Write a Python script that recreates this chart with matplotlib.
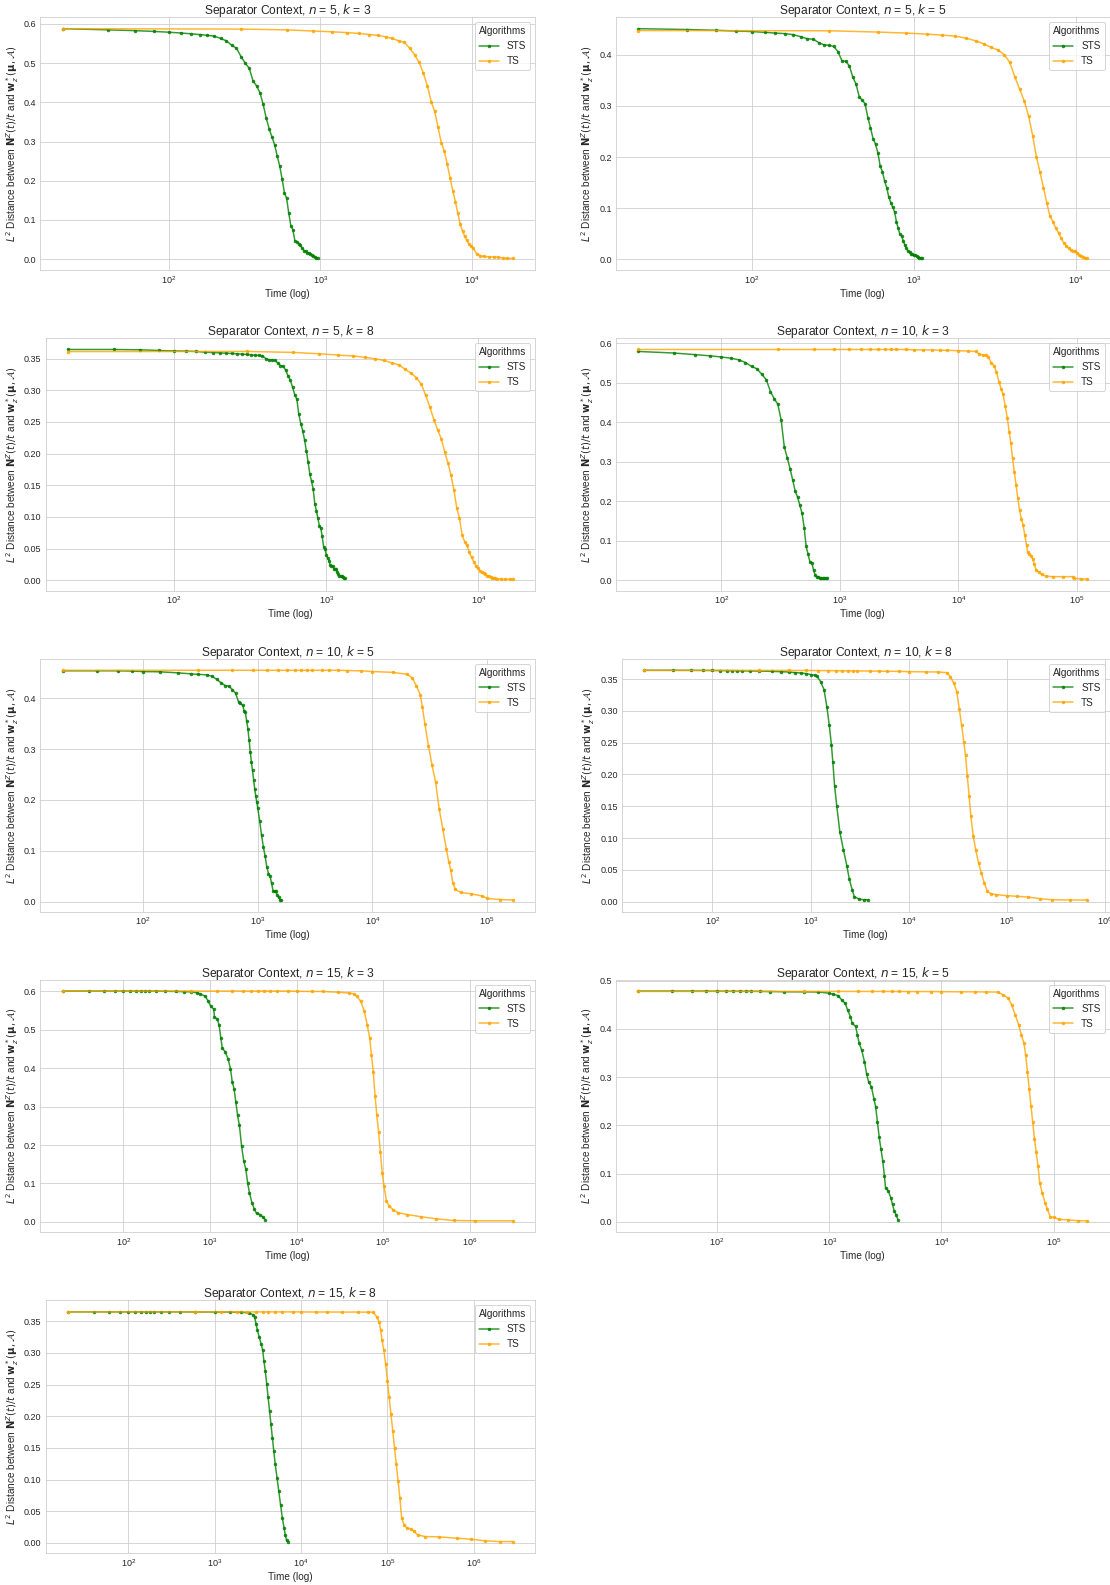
import matplotlib
matplotlib.use("Agg")
import matplotlib.pyplot as plt
import seaborn as sns

sns.set_style("whitegrid")
plt.rcParams["font.family"] = ["Liberation Sans", "DejaVu Sans"]

# ---------------- data ----------------
N5K3_STS_T = [20, 40, 60, 80, 100, 120, 140, 160, 180, 200, 220, 240, 260, 280, 300, 320, 340, 360, 380, 400,
              420, 440, 460, 480, 500, 520, 540, 560, 580, 600, 620, 640, 660, 680, 700, 720, 740, 760, 780, 800,
              820, 840, 860, 880, 900, 920, 940, 960]
N5K3_STS_Y = [0.588, 0.585, 0.583, 0.581, 0.579, 0.577, 0.575, 0.573, 0.571, 0.569, 0.563, 0.557, 0.546, 0.538,
              0.517, 0.500, 0.487, 0.455, 0.442, 0.425, 0.395, 0.360, 0.333, 0.312, 0.292, 0.263, 0.238, 0.205,
              0.170, 0.155, 0.117, 0.085, 0.075, 0.047, 0.044, 0.040, 0.035, 0.028, 0.022, 0.020, 0.017, 0.015,
              0.013, 0.010, 0.008, 0.006, 0.004, 0.003]
N5K3_TS_T = [20, 300, 600, 900, 1200, 1500, 1800, 2100, 2400, 2700, 3000, 3300, 3600, 3900, 4200, 4500, 4800,
             5100, 5400, 5700, 6000, 6300, 6600, 6900, 7200, 7500, 7800, 8100, 8400, 8700, 9000, 9300, 9600, 9900,
             10200, 10800, 11400, 12000, 13000, 14000, 15000, 16000, 17000, 18600]
N5K3_TS_Y = [0.588, 0.587, 0.585, 0.582, 0.580, 0.578, 0.576, 0.573, 0.571, 0.567, 0.563, 0.557, 0.553, 0.538,
             0.521, 0.502, 0.474, 0.442, 0.402, 0.377, 0.336, 0.297, 0.276, 0.242, 0.207, 0.175, 0.147, 0.117,
             0.089, 0.072, 0.058, 0.048, 0.038, 0.033, 0.029, 0.014, 0.009, 0.007, 0.006, 0.006, 0.005, 0.003,
             0.002, 0.002]

N5K5_STS_T = [20, 40, 60, 80, 100, 120, 140, 160, 180, 200, 220, 240, 260, 280, 300, 320, 340, 360, 380, 400,
              420, 440, 460, 480, 500, 520, 540, 560, 580, 600, 620, 640, 660, 680, 700, 720, 740, 760, 780, 800,
              820, 840, 860, 880, 900, 920, 940, 960, 980, 1000, 1020, 1040, 1060, 1080, 1100, 1120]
N5K5_STS_Y = [0.4506, 0.449, 0.4475, 0.446, 0.445, 0.4435, 0.442, 0.441, 0.439, 0.435, 0.431, 0.430, 0.423,
              0.419, 0.418, 0.416, 0.406, 0.388, 0.387, 0.378, 0.356, 0.342, 0.318, 0.311, 0.304, 0.277, 0.257,
              0.236, 0.225, 0.208, 0.182, 0.171, 0.153, 0.140, 0.122, 0.111, 0.102, 0.093, 0.074, 0.061, 0.049,
              0.046, 0.036, 0.028, 0.022, 0.016, 0.015, 0.011, 0.010, 0.009, 0.008, 0.006, 0.004, 0.003, 0.003,
              0.003]
N5K5_TS_T = [20, 300, 600, 900, 1200, 1500, 1800, 2100, 2400, 2700, 3000, 3300, 3600, 3900, 4200, 4500, 4800,
             5100, 5400, 5700, 6000, 6300, 6600, 6900, 7200, 7500, 7800, 8100, 8400, 8700, 9000, 9300, 9600, 9900,
             10200, 10500, 10800, 11100, 11400, 11700]
N5K5_TS_Y = [0.447, 0.4465, 0.444, 0.442, 0.440, 0.438, 0.436, 0.432, 0.427, 0.421, 0.414, 0.409, 0.400, 0.385,
             0.356, 0.332, 0.309, 0.280, 0.242, 0.200, 0.170, 0.140, 0.111, 0.085, 0.074, 0.061, 0.052, 0.041,
             0.033, 0.027, 0.022, 0.018, 0.017, 0.016, 0.013, 0.009, 0.006, 0.004, 0.003, 0.002]

N5K8_STS_T = [20, 40, 60, 80, 100, 120, 140, 160, 180, 200, 220, 240, 260, 280, 300, 320, 340, 360, 380, 400,
              420, 440, 460, 480, 500, 520, 540, 560, 580, 600, 620, 640, 660, 680, 700, 720, 740, 760, 780, 800,
              820, 840, 860, 880, 900, 920, 940, 960, 980, 1000, 1020, 1040, 1060, 1080, 1100, 1120, 1140, 1160,
              1180, 1200, 1220, 1240, 1260, 1280, 1300, 1320]
N5K8_STS_Y = [0.3643, 0.3643, 0.3638, 0.3627, 0.362, 0.3617, 0.3612, 0.360, 0.3595, 0.359, 0.3585, 0.358,
              0.3575, 0.357, 0.3565, 0.356, 0.355, 0.355, 0.3545, 0.350, 0.348, 0.348, 0.347, 0.343, 0.339, 0.338,
              0.332, 0.323, 0.316, 0.305, 0.293, 0.286, 0.262, 0.247, 0.236, 0.221, 0.204, 0.186, 0.167, 0.156,
              0.144, 0.121, 0.110, 0.098, 0.086, 0.082, 0.069, 0.053, 0.050, 0.040, 0.035, 0.031, 0.024, 0.023,
              0.023, 0.018, 0.018, 0.018, 0.013, 0.009, 0.006, 0.006, 0.006, 0.005, 0.003, 0.003]
N5K8_TS_T = [20, 300, 600, 900, 1200, 1500, 1800, 2100, 2400, 2700, 3000, 3300, 3600, 3900, 4200, 4500, 4800,
             5100, 5400, 5700, 6000, 6300, 6600, 6900, 7200, 7500, 7800, 8100, 8400, 8700, 9000, 9300, 9600, 9900,
             10200, 10500, 10800, 11100, 11400, 11700, 12000, 12300, 12600, 12900, 13200, 14000, 15000, 16000,
             16800]
N5K8_TS_Y = [0.361, 0.3612, 0.3597, 0.3575, 0.3555, 0.354, 0.352, 0.3495, 0.347, 0.343, 0.340, 0.333, 0.327,
             0.320, 0.310, 0.292, 0.273, 0.253, 0.237, 0.223, 0.203, 0.185, 0.166, 0.142, 0.114, 0.098, 0.072,
             0.061, 0.055, 0.044, 0.036, 0.029, 0.023, 0.019, 0.015, 0.013, 0.011, 0.009, 0.007, 0.006, 0.005,
             0.004, 0.003, 0.003, 0.002, 0.002, 0.0015, 0.0015, 0.0015]

N10K3_STS_T = [20, 40, 60, 80, 100, 120, 140, 160, 180, 200, 220, 240, 260, 280, 300, 320, 340, 360, 380, 400,
               420, 440, 460, 480, 500, 520, 540, 560, 580, 600, 620, 640, 660, 680, 700, 720, 740, 760, 780]
N10K3_STS_Y = [0.579, 0.575, 0.571, 0.568, 0.565, 0.562, 0.558, 0.551, 0.541, 0.535, 0.521, 0.507, 0.477,
               0.459, 0.445, 0.405, 0.337, 0.310, 0.282, 0.254, 0.225, 0.210, 0.189, 0.169, 0.133, 0.085, 0.065,
               0.045, 0.044, 0.025, 0.012, 0.008, 0.008, 0.006, 0.004, 0.004, 0.004, 0.004, 0.004]
N10K3_TS_T = [20, 300, 600, 900, 1200, 1500, 1800, 2100, 2400, 2700, 3000, 3600, 4200, 5000, 6000, 7000, 8000,
              10000, 12000, 14050, 15030, 16090, 16980, 17940, 18940, 19990, 20970, 21990, 22900, 23860, 24840,
              25900, 26800, 27700, 28650, 29650, 30660, 31730, 32830, 33970, 35140, 36360, 37610, 38380, 39440,
              41080, 42220, 43670, 45180, 47680, 50330, 54580, 62540, 76700, 92800, 95300, 107700, 121800]
N10K3_TS_Y = [0.584, 0.584, 0.584, 0.584, 0.584, 0.584, 0.584, 0.584, 0.584, 0.584, 0.584, 0.584, 0.583,
              0.583, 0.583, 0.582, 0.582, 0.581, 0.580, 0.579, 0.572, 0.570, 0.570, 0.565, 0.550, 0.543, 0.527,
              0.502, 0.485, 0.470, 0.440, 0.410, 0.376, 0.347, 0.308, 0.274, 0.241, 0.207, 0.177, 0.155, 0.139,
              0.113, 0.088, 0.071, 0.066, 0.062, 0.054, 0.041, 0.026, 0.020, 0.014, 0.010, 0.0085, 0.0085,
              0.0085, 0.004, 0.003, 0.002]

N10K5_STS_T = [20, 40, 60, 80, 100, 140, 200, 260, 300, 360, 400, 440, 480, 520, 560, 600, 640, 680, 700, 740,
               760, 780, 800, 820, 840, 860, 880, 900, 920, 940, 960, 980, 1000, 1040, 1080, 1120, 1160, 1200,
               1240, 1280, 1320, 1360, 1400, 1440, 1480, 1520, 1560, 1600]
N10K5_STS_Y = [0.454, 0.454, 0.454, 0.4535, 0.4525, 0.452, 0.450, 0.448, 0.447, 0.446, 0.443, 0.437, 0.430,
               0.425, 0.424, 0.417, 0.410, 0.393, 0.390, 0.386, 0.375, 0.372, 0.355, 0.340, 0.318, 0.295, 0.275,
               0.258, 0.240, 0.222, 0.208, 0.196, 0.184, 0.158, 0.130, 0.107, 0.089, 0.068, 0.055, 0.050, 0.036,
               0.021, 0.020, 0.020, 0.012, 0.008, 0.004, 0.003]
N10K5_TS_T = [20, 300, 600, 900, 1200, 1500, 1800, 2100, 2400, 2700, 3000, 3600, 4200, 5000, 6000, 8000, 10000,
              15000, 20140, 22130, 24110, 26100, 27240, 28630, 30770, 33070, 35530, 38190, 41040, 44100, 46370,
              48060, 50150, 52750, 58740, 72880, 90340, 100600, 129400, 166400]
N10K5_TS_Y = [0.455, 0.455, 0.455, 0.455, 0.455, 0.455, 0.455, 0.455, 0.455, 0.455, 0.455, 0.455, 0.455,
              0.455, 0.4545, 0.454, 0.4525, 0.451, 0.447, 0.440, 0.425, 0.407, 0.383, 0.350, 0.307, 0.268, 0.235,
              0.182, 0.143, 0.103, 0.077, 0.063, 0.037, 0.024, 0.018, 0.015, 0.011, 0.006, 0.004, 0.003]

N10K8_STS_T = [20, 40, 60, 80, 100, 120, 140, 160, 180, 200, 240, 300, 400, 500, 600, 700, 800, 900, 1000,
               1100, 1164, 1264, 1373, 1467, 1553, 1633, 1687, 1758, 1847, 1990, 2160, 2345, 2485, 2653, 2788,
               3130, 3500, 3878]
N10K8_STS_Y = [0.3637, 0.3637, 0.3636, 0.3635, 0.3634, 0.3633, 0.3632, 0.3631, 0.363, 0.3628, 0.3626, 0.3625,
               0.362, 0.3615, 0.361, 0.360, 0.3595, 0.3585, 0.357, 0.356, 0.354, 0.346, 0.333, 0.306, 0.277,
               0.246, 0.219, 0.182, 0.151, 0.109, 0.082, 0.056, 0.035, 0.019, 0.008, 0.004, 0.003, 0.003]
N10K8_TS_T = [20, 300, 600, 900, 1200, 1500, 1800, 2100, 2400, 2700, 3000, 4000, 5000, 6000, 8000, 10000, 15000,
              20000, 24550, 26660, 28940, 30900, 32730, 34670, 36460, 37970, 39590, 41260, 42990, 45510, 48200,
              51490, 55040, 58830, 63310, 68720, 77800, 99600, 127500, 163300, 217800, 290600, 438600, 662000]
N10K8_TS_Y = [0.3635, 0.3635, 0.3635, 0.3634, 0.3633, 0.3632, 0.3631, 0.363, 0.363, 0.3628, 0.3627, 0.3625,
              0.3623, 0.3621, 0.362, 0.3615, 0.3612, 0.361, 0.360, 0.3537, 0.343, 0.330, 0.3036, 0.277, 0.251,
              0.230, 0.198, 0.1666, 0.135, 0.103, 0.082, 0.061, 0.045, 0.030, 0.016, 0.0127, 0.011, 0.0095,
              0.0084, 0.0074, 0.0047, 0.003, 0.0026, 0.0026]

N15K3_STS_T = [20, 40, 60, 80, 100, 120, 140, 160, 180, 200, 240, 300, 400, 500, 600, 700, 770, 887, 957, 1024,
               1105, 1126, 1215, 1274, 1336, 1388, 1497, 1615, 1726, 1810, 1898, 1990, 2087, 2188, 2317, 2453,
               2595, 2722, 2856, 3052, 3262, 3451, 3796, 4055, 4336]
N15K3_STS_Y = [0.601, 0.601, 0.601, 0.601, 0.601, 0.601, 0.601, 0.601, 0.601, 0.601, 0.601, 0.6005, 0.600,
               0.5995, 0.599, 0.597, 0.594, 0.587, 0.574, 0.561, 0.554, 0.534, 0.528, 0.513, 0.478, 0.452, 0.443,
               0.425, 0.399, 0.364, 0.347, 0.312, 0.277, 0.251, 0.198, 0.159, 0.137, 0.102, 0.076, 0.0498,
               0.0323, 0.022, 0.019, 0.013, 0.006]
N15K3_TS_T = [20, 600, 1200, 1800, 2400, 3000, 3600, 4200, 5000, 6000, 8000, 10000, 15000, 20000, 30000, 40000,
              45680, 50200, 55220, 60760, 65550, 70050, 73440, 77000, 80720, 84730, 88780, 93100, 97600, 102400,
              109400, 118000, 129800, 149600, 189700, 277300, 405500, 651600, 1152000, 3126000]
N15K3_TS_Y = [0.601, 0.601, 0.601, 0.601, 0.601, 0.601, 0.601, 0.601, 0.601, 0.601, 0.601, 0.6005, 0.600,
              0.600, 0.598, 0.596, 0.594, 0.587, 0.574, 0.548, 0.513, 0.478, 0.434, 0.390, 0.329, 0.277, 0.233,
              0.181, 0.128, 0.093, 0.054, 0.041, 0.032, 0.0236, 0.019, 0.013, 0.008, 0.0035, 0.0026, 0.0026]

N15K5_STS_T = [20, 40, 60, 80, 100, 120, 140, 160, 180, 200, 240, 300, 400, 600, 800, 1000, 1080, 1203, 1293,
               1389, 1460, 1547, 1603, 1722, 1786, 1852, 1947, 2063, 2153, 2248, 2381, 2504, 2595, 2692, 2790,
               2892, 2998, 3106, 3176, 3363, 3537, 3665, 3799, 3939, 4111]
N15K5_STS_Y = [0.4784, 0.4784, 0.4784, 0.4783, 0.4782, 0.4782, 0.4781, 0.478, 0.478, 0.478, 0.4778, 0.4775,
               0.477, 0.4768, 0.4765, 0.474, 0.472, 0.469, 0.460, 0.453, 0.439, 0.4256, 0.412, 0.405, 0.387,
               0.370, 0.356, 0.332, 0.307, 0.290, 0.2796, 0.255, 0.238, 0.2065, 0.175, 0.151, 0.1266, 0.095,
               0.071, 0.064, 0.050, 0.036, 0.022, 0.015, 0.0035]
N15K5_TS_T = [20, 600, 1200, 1800, 2400, 3000, 3600, 4200, 5000, 6000, 8000, 10000, 15000, 20000, 25000, 31690,
              35290, 39300, 42240, 45390, 48780, 51650, 54320, 56290, 58330, 60470, 62660, 65000, 67400, 69850,
              72400, 75080, 78920, 83600, 87930, 93130, 100100, 111500, 133500, 165500, 198200]
N15K5_TS_Y = [0.4777, 0.4777, 0.4777, 0.4777, 0.4777, 0.4777, 0.4776, 0.4776, 0.4775, 0.4775, 0.4774, 0.4772,
              0.477, 0.4768, 0.4766, 0.4764, 0.471, 0.464, 0.450, 0.429, 0.408, 0.387, 0.370, 0.3456, 0.311,
              0.276, 0.241, 0.2066, 0.172, 0.144, 0.116, 0.081, 0.0605, 0.0396, 0.0257, 0.0104, 0.009, 0.0049,
              0.0042, 0.002, 0.002]

N15K8_STS_T = [20, 40, 60, 80, 100, 120, 140, 160, 180, 200, 240, 300, 400, 600, 1000, 1500, 2000, 2500, 2794,
               2900, 3012, 3130, 3280, 3441, 3606, 3711, 3854, 4004, 4159, 4319, 4486, 4658, 4838, 5024, 5272,
               5527, 5796, 6077, 6374, 6555, 6809, 7007]
N15K8_STS_Y = [0.3648, 0.3648, 0.3648, 0.3648, 0.3648, 0.3648, 0.3648, 0.3648, 0.3648, 0.3648, 0.3648,
               0.3648, 0.3648, 0.3647, 0.3646, 0.3645, 0.3642, 0.3632, 0.360, 0.357, 0.346, 0.3357, 0.325,
               0.3145, 0.304, 0.288, 0.272, 0.251, 0.2298, 0.2086, 0.187, 0.166, 0.145, 0.124, 0.103, 0.0815,
               0.060, 0.039, 0.023, 0.0127, 0.004, 0.002]
N15K8_TS_T = [20, 600, 1200, 1800, 2400, 3000, 3600, 4200, 5000, 6000, 8000, 10000, 15000, 20000, 30000, 45000,
              60000, 68240, 75050, 80230, 83330, 86520, 90760, 95140, 99770, 104600, 109700, 115000, 120600,
              126500, 132600, 139000, 145800, 155800, 168100, 184800, 203200, 223400, 270100, 394500, 634000,
              926400, 1355000, 1980000, 2812000]
N15K8_TS_Y = [0.3648, 0.3648, 0.3648, 0.3648, 0.3648, 0.3648, 0.3648, 0.3648, 0.3648, 0.3648, 0.3648, 0.3647,
              0.3646, 0.3646, 0.3645, 0.3645, 0.3644, 0.3643, 0.357, 0.349, 0.3357, 0.320, 0.304, 0.2827, 0.256,
              0.2298, 0.203, 0.177, 0.150, 0.124, 0.0974, 0.071, 0.039, 0.0286, 0.0233, 0.0222, 0.018, 0.0127,
              0.010, 0.0095, 0.0074, 0.0058, 0.0032, 0.0021, 0.0021]

N_VALUES = [5, 5, 5, 10, 10, 10, 15, 15, 15]
K_VALUES = [3, 5, 8, 3, 5, 8, 3, 5, 8]
ALGORITHMS = ["STS", "TS"]
PANELS = [
    (N5K3_STS_T, N5K3_STS_Y, N5K3_TS_T, N5K3_TS_Y),
    (N5K5_STS_T, N5K5_STS_Y, N5K5_TS_T, N5K5_TS_Y),
    (N5K8_STS_T, N5K8_STS_Y, N5K8_TS_T, N5K8_TS_Y),
    (N10K3_STS_T, N10K3_STS_Y, N10K3_TS_T, N10K3_TS_Y),
    (N10K5_STS_T, N10K5_STS_Y, N10K5_TS_T, N10K5_TS_Y),
    (N10K8_STS_T, N10K8_STS_Y, N10K8_TS_T, N10K8_TS_Y),
    (N15K3_STS_T, N15K3_STS_Y, N15K3_TS_T, N15K3_TS_Y),
    (N15K5_STS_T, N15K5_STS_Y, N15K5_TS_T, N15K5_TS_Y),
    (N15K8_STS_T, N15K8_STS_Y, N15K8_TS_T, N15K8_TS_Y),
]

# ---------------- layout ----------------
W, H, DPI = 1110, 1585, 72
fig = plt.figure(figsize=(W / DPI, H / DPI), dpi=DPI)

# left / right pixel edges of each panel (two-decimal tick labels need more room)
LEFTS = [40.4, 616.0, 45.5, 616.0, 40.4, 621.7, 40.4, 616.0, 45.5]
RIGHTS = [535.0, 1109.5]
row_top0, row_step, ax_h = 17.2, 320.8, 252.7

YLABEL = (r"$L^2$ Distance between $\mathbf{N}^Z(t)/t$ and "
          r"$\mathbf{w}_z^*(\mathbf{\mu}, \mathcal{A})$")

for i, (st, sy, tt, ty) in enumerate(PANELS):
    r, c = divmod(i, 2)
    top = row_top0 + r * row_step
    left = LEFTS[i]
    ax = fig.add_axes([left / W, 1 - (top + ax_h) / H, (RIGHTS[c] - left) / W, ax_h / H])
    ax.plot(st, sy, color="green", marker=".", markersize=5, linewidth=1.5, alpha=0.8, label=ALGORITHMS[0])
    ax.plot(tt, ty, color="orange", marker=".", markersize=5, linewidth=1.5, alpha=0.8, label=ALGORITHMS[1])
    ax.set_xscale("log")
    ax.set_title(f"Separator Context, $n$ = {N_VALUES[i]}, $k$ = {K_VALUES[i]}", fontsize=12, pad=3)
    ax.set_xlabel("Time (log)", fontsize=10, labelpad=3)
    ax.set_ylabel(YLABEL, fontsize=10, labelpad=3)
    ax.tick_params(labelsize=9, length=0, pad=4)
    ax.tick_params(which="minor", length=0)
    ax.legend(title="Algorithms", loc="upper right", fontsize=10, title_fontsize=10)

fig.savefig("out.png", dpi=DPI)
